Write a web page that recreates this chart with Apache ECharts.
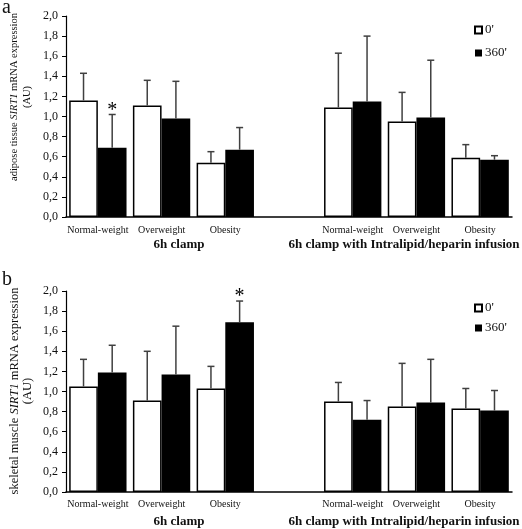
<!DOCTYPE html>
<html>
<head>
<meta charset="utf-8">
<script src="https://cdn.jsdelivr.net/npm/echarts@6/dist/echarts.min.js"></script>
<style>html,body{margin:0;padding:0;background:#fff;}#c{width:522px;height:529px;}</style>
</head>
<body>
<div id="c"></div>
<script>
// ---- data ----
const categories = ['Normal-weight', 'Overweight', 'Obesity', '', 'Normal-weight', 'Overweight', 'Obesity'];
const groupLabels = ['6h clamp', '6h clamp with Intralipid/heparin infusion'];
const seriesNames = ["0'", "360'"];
const yTicks = [0, 0.2, 0.4, 0.6, 0.8, 1.0, 1.2, 1.4, 1.6, 1.8, 2.0];

const adipose0 = [1.16, 1.11, 0.54, null, 1.09, 0.95, 0.59];
const adipose0Err = [0.27, 0.25, 0.11, null, 0.54, 0.29, 0.13];
const adipose360 = [0.69, 0.98, 0.67, null, 1.15, 0.99, 0.57];
const adipose360Err = [0.33, 0.37, 0.22, null, 0.65, 0.57, 0.04];
const adipose360Sig = [1, 0, 0, 0, 0, 0, 0];

const muscle0 = [1.05, 0.91, 1.03, null, 0.90, 0.85, 0.83];
const muscle0Err = [0.27, 0.49, 0.22, null, 0.19, 0.43, 0.20];
const muscle360 = [1.19, 1.17, 1.69, null, 0.72, 0.89, 0.81];
const muscle360Err = [0.27, 0.48, 0.21, null, 0.19, 0.43, 0.20];
const muscle360Sig = [0, 0, 1, 0, 0, 0, 0];

// ---- styling ----
const FONT = "'Liberation Serif', 'Times New Roman', serif";
const TXT = '#111';

const grids = [
  { left: 66, right: 10, top: 16, height: 201 },
  { left: 66, right: 10, top: 291, height: 201 }
];

function xAxis(i) {
  return {
    type: 'category', gridIndex: i, data: categories,
    axisLine: { lineStyle: { color: '#000', width: 1.5 } },
    axisTick: { show: false },
    axisLabel: { interval: 0, fontFamily: FONT, fontSize: 10, color: TXT, margin: i === 0 ? 8 : 7 },
    splitLine: { show: false }
  };
}
function yAxis(i) {
  return {
    type: 'value', gridIndex: i, min: yTicks[0], max: yTicks[yTicks.length - 1], interval: 0.2,
    axisLine: { show: true, lineStyle: { color: '#000', width: 1.2 } },
    axisTick: { show: true, length: 4, lineStyle: { color: '#000' } },
    axisLabel: {
      fontFamily: FONT, fontSize: 12, color: TXT, margin: 8,
      formatter: v => v.toFixed(1).replace('.', ',')
    },
    splitLine: { show: false }
  };
}

function errRenderer(sign, sigArr) {
  return function (params, api) {
    const v = api.value(1), e = api.value(2);
    if (v == null || isNaN(v)) return;
    const band = api.size([1, 0])[0];
    const base = api.coord([api.value(0), v]);
    const top = api.coord([api.value(0), v + e]);
    const x = base[0] + sign * band * 0.225;
    const style = { stroke: '#404040', lineWidth: 1.5 };
    const children = [
      { type: 'line', shape: { x1: x, y1: base[1], x2: x, y2: top[1] }, style: style },
      { type: 'line', shape: { x1: x - 3.5, y1: top[1], x2: x + 3.5, y2: top[1] }, style: style }
    ];
    if (sigArr[params.dataIndex]) {
      children.push({ type: 'text', x: x, y: top[1] - 4,
        style: { text: '*', font: '20px ' + FONT, fill: '#000', align: 'center', verticalAlign: 'middle' } });
    }
    return { type: 'group', children: children };
  };
}

function barSeries(name, data, i, white) {
  return {
    name: name, type: 'bar', xAxisIndex: i, yAxisIndex: i,
    data: data, barGap: '0%', barCategoryGap: '10%',
    itemStyle: white ? { color: '#fff', borderColor: '#000', borderWidth: 1.5 } : { color: '#000', borderColor: '#000', borderWidth: 0 },
    emphasis: { disabled: true }, animation: false
  };
}
function errSeries(vals, errs, sig, sign, i) {
  return {
    type: 'custom', xAxisIndex: i, yAxisIndex: i, z: 5,
    renderItem: errRenderer(sign, sig),
    data: vals.map((v, k) => [k, v == null ? NaN : v, errs[k] == null ? 0 : errs[k]]),
    animation: false, silent: true
  };
}

const zeroSig = categories.map(() => 0);

function yTitle(cx, cy, prefix, size) {
  return {
    type: 'text', x: cx, y: cy, rotation: Math.PI / 2,
    style: {
      text: prefix + ' {i|SIRT1} mRNA expression\n(AU)',
      font: size + 'px ' + FONT, fill: TXT, align: 'center', verticalAlign: 'middle',
      lineHeight: 13,
      rich: { i: { fontStyle: 'italic', fontFamily: FONT, fontSize: size, lineHeight: 13 } }
    }
  };
}
function plainText(x, y, text, font, align) {
  return { type: 'text', x: x, y: y, style: { text: text, font: font, fill: TXT, align: align || 'center', verticalAlign: 'middle' } };
}

function legendAt(top, gap) {
  return { data: seriesNames, orient: 'vertical', left: 469, top: top, itemWidth: 7, itemHeight: 7, itemGap: gap,
    icon: 'rect', selectedMode: false,
    textStyle: { fontFamily: FONT, fontSize: 13, color: TXT, lineHeight: 14, padding: [0, 0, 0, -2] } };
}

const option = {
  backgroundColor: '#fff',
  animation: false,
  grid: grids,
  xAxis: [xAxis(0), xAxis(1)],
  yAxis: [yAxis(0), yAxis(1)],
  legend: [legendAt(18, 9), legendAt(296, 6)],
  series: [
    barSeries(seriesNames[0], adipose0, 0, true),
    barSeries(seriesNames[1], adipose360, 0, false),
    barSeries(seriesNames[0], muscle0, 1, true),
    barSeries(seriesNames[1], muscle360, 1, false),
    errSeries(adipose0, adipose0Err, zeroSig, -1, 0),
    errSeries(adipose360, adipose360Err, adipose360Sig, 1, 0),
    errSeries(muscle0, muscle0Err, zeroSig, -1, 1),
    errSeries(muscle360, muscle360Err, muscle360Sig, 1, 1)
  ],
  graphic: [
    plainText(2, 8, 'a', '20px ' + FONT, 'left'),
    plainText(2, 280, 'b', '20px ' + FONT, 'left'),
    yTitle(21, 97, 'adipose tissue', 10.5),
    yTitle(21, 391, 'skeletal muscle', 12.5),
    plainText(179, 245, groupLabels[0], 'bold 13px ' + FONT),
    plainText(404, 245, groupLabels[1], 'bold 13px ' + FONT),
    plainText(179, 522, groupLabels[0], 'bold 13px ' + FONT),
    plainText(404, 522, groupLabels[1], 'bold 13px ' + FONT)
  ]
};

const chart = echarts.init(document.getElementById('c'), null, { renderer: 'canvas' });
chart.setOption(option);
</script>
</body>
</html>
